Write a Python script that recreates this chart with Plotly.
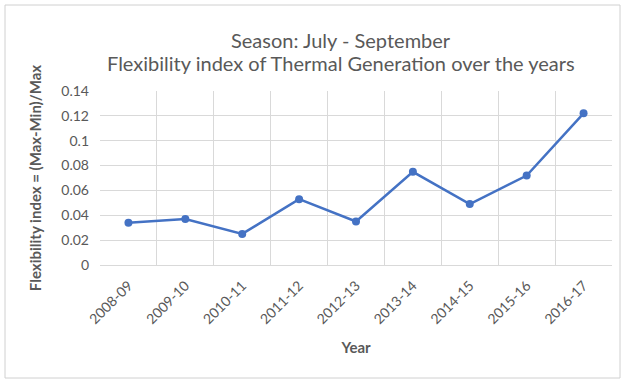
import plotly.graph_objects as go

years = ["2008-09", "2009-10", "2010-11", "2011-12", "2012-13",
         "2013-14", "2014-15", "2015-16", "2016-17"]
flex_index = [0.034, 0.037, 0.025, 0.053, 0.035, 0.075, 0.049, 0.072, 0.122]
y_ticks = [0, 0.02, 0.04, 0.06, 0.08, 0.1, 0.12, 0.14]
y_tick_labels = ["0", "0.02", "0.04", "0.06", "0.08", "0.1", "0.12", "0.14"]
title_lines = ["Season: July - September",
               "Flexibility index of Thermal Generation over the years"]

FONT = "Lato"
GREY = "#595959"
BLUE = "#4472C4"

fig = go.Figure()
fig.add_trace(go.Scatter(
    x=years, y=flex_index, mode="lines+markers",
    line=dict(color=BLUE, width=2.5),
    marker=dict(color=BLUE, size=8),
    showlegend=False,
))

L, R, T, B = 100, 12, 91, 116
W, H = 624, 381
pw, ph = W - L - R, H - T - B

annotations = []
for txt, ypix in zip(title_lines, [40, 63]):
    annotations.append(dict(
        text=txt, xref="paper", yref="paper",
        x=(341 - L) / pw, y=1 + (T - ypix) / ph,
        xanchor="center", yanchor="middle", showarrow=False,
        font=dict(family=FONT, size=20, color=GREY),
    ))

fig.update_layout(
    width=W, height=H,
    margin=dict(l=L, r=R, t=T, b=B),
    paper_bgcolor="white", plot_bgcolor="white",
    font=dict(family=FONT, color=GREY, size=14),
    annotations=annotations,
    xaxis=dict(
        type="category", range=[-0.5, len(years) - 0.5],
        tickson="boundaries", showgrid=True, gridcolor="#d9d9d9", gridwidth=1,
        ticks="", tickangle=-45, tickfont=dict(size=14, color=GREY),
        ticklabelstandoff=6,
        showline=True, linecolor="#d9d9d9",
        title=dict(text="<b>Year</b>", font=dict(size=15, color=GREY), standoff=16),
    ),
    yaxis=dict(
        range=[0, 0.14], tickvals=y_ticks, ticktext=y_tick_labels,
        showgrid=True, gridcolor="#d9d9d9", gridwidth=1, zeroline=False,
        ticks="", tickfont=dict(size=14, color=GREY), ticklabelstandoff=10,
        title=dict(text="<b>Flexibility index = (Max-Min)/Max</b>",
                   font=dict(size=15, color=GREY), standoff=16),
    ),
    shapes=[dict(
        type="rect", xref="paper", yref="paper",
        x0=(5 - L) / pw, x1=(620 - L) / pw,
        y0=-(378 - (H - B)) / ph, y1=1 + (T - 5) / ph,
        line=dict(color="#d0d0d0", width=1), fillcolor="rgba(0,0,0,0)", layer="below",
    )],
)

fig.write_html("out.html")
